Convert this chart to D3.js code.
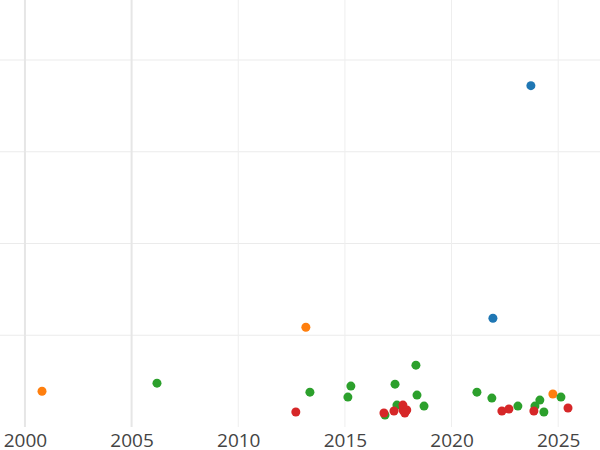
<!DOCTYPE html>
<html>
<head>
<meta charset="utf-8">
<script src="https://cdn.jsdelivr.net/npm/d3@7"></script>
<style>
  body { margin: 0; background: #fff; }
  svg { display: block; font-family: "Open Sans", "DejaVu Sans", sans-serif; }
</style>
</head>
<body>
<div id="chart"></div>
<script>
// values
const blueYears = [2023.72, 2021.94];
const blueValues = [3.72, 1.185];
const orangeYears = [2000.8, 2013.17, 2024.75];
const orangeValues = [0.39, 1.087, 0.36];
const greenYears = [2006.19, 2013.36, 2015.14, 2015.28, 2016.88, 2017.35, 2017.44, 2018.33, 2018.38, 2018.71,
  2021.19, 2021.89, 2023.11, 2023.91, 2024.14, 2024.33, 2025.13];
const greenValues = [0.478, 0.38, 0.326, 0.446, 0.13, 0.467, 0.239, 0.674, 0.348, 0.228,
  0.38, 0.315, 0.228, 0.228, 0.293, 0.163, 0.326];
const redYears = [2012.7, 2016.83, 2017.3, 2017.72, 2017.72, 2017.9, 2017.81, 2022.36, 2022.69, 2023.86, 2025.46];
const redValues = [0.163, 0.152, 0.174, 0.239, 0.185, 0.185, 0.152, 0.174, 0.196, 0.174, 0.207];
const xTicks = [2000, 2005, 2010, 2015, 2020, 2025];
const yTicks = [1, 2, 3, 4];

const width = 600, height = 450;

const series = [
  { years: blueYears, values: blueValues, color: "#1f77b4" },
  { years: orangeYears, values: orangeValues, color: "#ff7f0e" },
  { years: greenYears, values: greenValues, color: "#2ca02c" },
  { years: redYears, values: redValues, color: "#d62728" }
];

const x = d3.scaleLinear().domain([1998.83, 2026.96]).range([0, width]);
const y = d3.scaleLinear().domain([0, 4]).range([427, 60]);

const svg = d3.select("#chart").append("svg")
  .attr("width", width)
  .attr("height", height);

// grid
svg.append("g").selectAll("line")
  .data(yTicks)
  .enter().append("line")
  .attr("x1", 0).attr("x2", width)
  .attr("y1", d => y(d)).attr("y2", d => y(d))
  .attr("stroke", "#ebebeb").attr("stroke-width", 1);

svg.append("g").selectAll("line")
  .data(xTicks)
  .enter().append("line")
  .attr("x1", d => x(d)).attr("x2", d => x(d))
  .attr("y1", 0).attr("y2", 427)
  .attr("stroke", d => d <= 2005 ? "#e6e6e6" : "#eeeeee")
  .attr("stroke-width", d => d <= 2005 ? 2 : 1);

// x axis labels
const xAxis = svg.append("g")
  .attr("transform", "translate(0,427)")
  .call(d3.axisBottom(x).tickValues(xTicks).tickFormat(d3.format("d")).tickSize(0).tickPadding(6));
xAxis.select(".domain").remove();
xAxis.selectAll("text")
  .attr("font-size", 19)
  .attr("fill", "#444")
  .attr("font-family", "\"Open Sans\", sans-serif");

// points
series.forEach(s => {
  svg.append("g").selectAll("circle")
    .data(s.years.map((yr, i) => ({ yr, v: s.values[i] })))
    .enter().append("circle")
    .attr("cx", d => x(d.yr))
    .attr("cy", d => y(d.v))
    .attr("r", 4.5)
    .attr("fill", s.color);
});
</script>
</body>
</html>
